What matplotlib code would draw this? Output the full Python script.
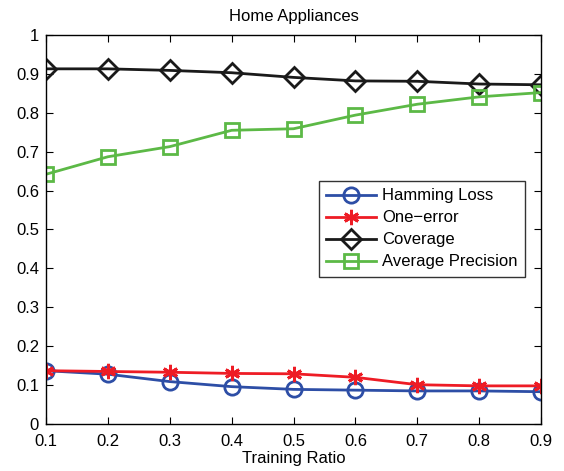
import matplotlib
matplotlib.use('Agg')
import matplotlib.pyplot as plt
import numpy as np

# Data
ratios = [0.1, 0.2, 0.3, 0.4, 0.5, 0.6, 0.7, 0.8, 0.9]
hamming_loss = [0.137, 0.128, 0.109, 0.096, 0.089, 0.087, 0.085, 0.085, 0.083]
one_error = [0.137, 0.135, 0.133, 0.130, 0.129, 0.120, 0.101, 0.098, 0.098]
coverage = [0.913, 0.913, 0.909, 0.903, 0.891, 0.882, 0.881, 0.874, 0.872]
avg_precision = [0.642, 0.687, 0.713, 0.755, 0.759, 0.794, 0.822, 0.841, 0.852]

plt.rcParams['font.family'] = ['Liberation Sans', 'DejaVu Sans']

fig = plt.figure(figsize=(5.64, 4.71), dpi=100)
ax = fig.add_axes([0.0816, 0.0998, 0.8777, 0.8259])

ax.plot(ratios, hamming_loss, '-o', color='#2d4ea6', lw=2, ms=11,
        mfc='none', mew=2, label='Hamming Loss')
ax.plot(ratios, one_error, '-', marker=(6, 2, 0), color='#ee1c25', lw=2, ms=11,
        mew=2, label='One\u2212error')
ax.plot(ratios, coverage, '-D', color='#1a1a1a', lw=2, ms=10,
        mfc='none', mew=2, label='Coverage')
ax.plot(ratios, avg_precision, '-s', color='#5cb946', lw=2, ms=10,
        mfc='none', mew=2, label='Average Precision')

ax.set_xlim(0.1, 0.9)
ax.set_ylim(0, 1)
ax.set_xticks(ratios)
ax.set_xticklabels(['0.1', '0.2', '0.3', '0.4', '0.5', '0.6', '0.7', '0.8', '0.9'])
ax.set_yticks(np.arange(0, 1.01, 0.1))
ax.set_yticklabels(['0', '0.1', '0.2', '0.3', '0.4', '0.5', '0.6', '0.7', '0.8', '0.9', '1'])
ax.tick_params(direction='in', top=True, right=True, labelsize=12, length=5)
ax.tick_params(axis='x', pad=7)
ax.tick_params(axis='y', pad=5)
for s in ax.spines.values():
    s.set_linewidth(1)
ax.set_xlabel('Training Ratio', fontsize=12, labelpad=2)
ax.set_title('Home Appliances', fontsize=12, pad=10)

leg = ax.legend(loc='upper right', bbox_to_anchor=(0.968, 0.625), fontsize=12,
                frameon=True, fancybox=False, edgecolor='black',
                handlelength=3.0, handletextpad=0.35, borderpad=0.45,
                labelspacing=0.42, borderaxespad=0)
leg.get_frame().set_linewidth(1)

fig.savefig('out.png', dpi=100)
